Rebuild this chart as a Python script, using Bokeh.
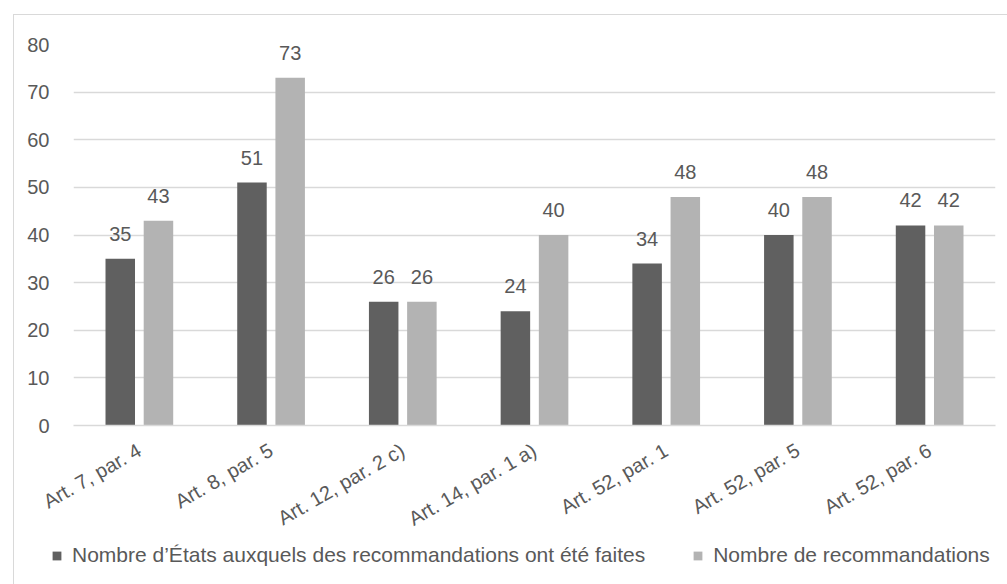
import math
from bokeh.plotting import figure
from bokeh.models import ColumnDataSource, FactorRange, Range1d, Legend, LegendItem, FixedTicker
from bokeh.transform import dodge
from bokeh.layouts import column
from bokeh.core.properties import value
from bokeh.embed import file_html
from bokeh.resources import INLINE

categories = ["Art. 7, par. 4", "Art. 8, par. 5", "Art. 12, par. 2 c)", "Art. 14, par. 1 a)",
              "Art. 52, par. 1", "Art. 52, par. 5", "Art. 52, par. 6"]
etats = [35, 51, 26, 24, 34, 40, 42]
recs = [43, 73, 26, 40, 48, 48, 42]
yticks = [0, 10, 20, 30, 40, 50, 60, 70, 80]
series_names = ["Nombre d\u2019\u00c9tats auxquels des recommandations ont \u00e9t\u00e9 faites",
                "Nombre de recommandations"]

FONT = "Liberation Sans"
TXT = "#595959"
DARK = "#606060"
LIGHT = "#b3b3b3"
GRID = "#d9d9d9"

src = ColumnDataSource(dict(cat=categories, etats=etats, recs=recs,
                            etats_lbl=[str(v) for v in etats],
                            recs_lbl=[str(v) for v in recs]))

p = figure(x_range=FactorRange(*categories), y_range=Range1d(0, 80),
           width=993, height=527, output_backend="svg", toolbar_location=None,
           min_border_left=59, min_border_right=12, min_border_top=29, min_border_bottom=117)
p.frame_align = False

off = 0.145
bw = 0.224
p.vbar(x=dodge("cat", -off, range=p.x_range), top="etats", width=bw, source=src,
       fill_color=DARK, line_color=None)
p.vbar(x=dodge("cat", off, range=p.x_range), top="recs", width=bw, source=src,
       fill_color=LIGHT, line_color=None)

for col, lbl, o in (("etats", "etats_lbl", -off), ("recs", "recs_lbl", off)):
    p.text(x=dodge("cat", o, range=p.x_range), y=col, text=lbl, source=src,
           text_align="center", text_baseline="alphabetic", y_offset=-25,
           text_font=value(FONT), text_font_size="20px", text_color=TXT)

p.outline_line_color = None
p.xgrid.grid_line_color = None
p.ygrid.grid_line_color = GRID
p.ygrid.grid_line_width = 1.3

p.yaxis.ticker = FixedTicker(ticks=yticks)
p.yaxis.axis_line_color = None
p.yaxis.major_tick_line_color = None
p.yaxis.minor_tick_line_color = None
p.yaxis.major_label_standoff = 18
p.yaxis.major_label_text_font = FONT
p.yaxis.major_label_text_font_size = "20px"
p.yaxis.major_label_text_color = TXT

p.xaxis.axis_line_color = GRID
p.xaxis.axis_line_width = 1.3
p.xaxis.major_tick_line_color = None
p.xaxis.minor_tick_line_color = None
p.xaxis.major_label_orientation = math.radians(30)
p.xaxis.major_label_standoff = 17
p.xaxis.major_label_text_font = FONT
p.xaxis.major_label_text_font_size = "20px"
p.xaxis.major_label_text_color = TXT

# legend row (separate strip so the legend is not clipped by the plot frame)
lg = figure(width=993, height=42, output_backend="svg", toolbar_location=None,
            x_range=Range1d(0, 1), y_range=Range1d(0, 1),
            min_border=0, min_border_left=0, min_border_right=0,
            min_border_top=0, min_border_bottom=0,
            x_axis_location=None, y_axis_location=None)
lg.frame_align = False
lg.outline_line_color = None
lg.grid.grid_line_color = None
lr1 = lg.vbar(x=[5], top=[1], width=0.1, fill_color=DARK, line_color=None)
lr2 = lg.vbar(x=[5], top=[1], width=0.1, fill_color=LIGHT, line_color=None)
legend = Legend(items=[LegendItem(label=series_names[0], renderers=[lr1]),
                       LegendItem(label=series_names[1], renderers=[lr2])],
                orientation="horizontal", location=(37, 17),
                glyph_width=11, glyph_height=11, label_standoff=10, spacing=47,
                padding=0, margin=0, border_line_color=None, background_fill_alpha=0,
                label_text_font=FONT, label_text_font_size="21px", label_text_color=TXT)
lg.add_layout(legend)

layout = column(p, lg, spacing=0, margin=(14, 0, 0, 13),
                styles={"border-top": "1px solid #d9d9d9", "border-left": "1px solid #d9d9d9"})

open("out.html", "w").write(file_html(layout, INLINE))
